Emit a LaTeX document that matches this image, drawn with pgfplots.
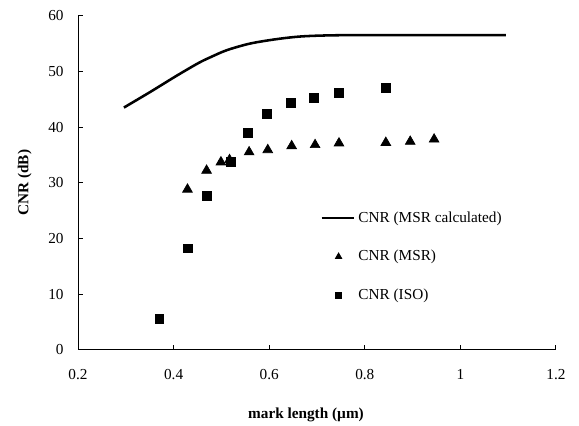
\documentclass[border=0pt]{standalone}
\usepackage{fontspec}
\setmainfont{Liberation Serif}
\usepackage{pgfplots}
\pgfplotsset{compat=1.18}
\begin{document}
\begin{tikzpicture}
\begin{axis}[
    scale only axis,
    width=9.906cm, height=6.922cm,
    xmin=0.2, xmax=1.2, ymin=0, ymax=60,
    xtick={0.2,0.4,0.6,0.8,1,1.2},
    ytick={0,10,20,30,40,50,60},
    axis x line=bottom, axis y line=left,
    axis line style={-, line width=0.6pt},
    tick align=inside, major tick length=3pt,
    tick style={black, line width=0.6pt},
    /pgf/number format/assume math mode=true,
    tick label style={font=\fontsize{9}{11}\selectfont},
    xticklabel style={yshift=-8pt},
    yticklabel style={xshift=-5pt},
    label style={font=\fontsize{9}{11}\selectfont\bfseries},
    xlabel={mark length (µm)},
    ylabel={CNR (dB)},
    xlabel style={at={(rel axis cs:0.477,0)}, yshift=-31pt},
    ylabel style={yshift=3pt},
    legend style={draw=none, fill=none, at={(axis cs:0.707,25.5)}, anchor=north west,
        font=\fontsize{9}{11}\selectfont, row sep=11pt,
        inner sep=0pt, cells={anchor=west}},
    legend cell align=left,
    clip=false,
]
% CNR (MSR calculated)
\addplot[black, line width=1.5pt, smooth, forget plot] coordinates {
    (0.296,43.5) (0.351,46.3) (0.406,49.2) (0.452,51.5) (0.476,52.5)
    (0.511,53.8) (0.560,55.0) (0.616,55.8) (0.671,56.3) (0.75,56.5)
    (0.9,56.5) (1.095,56.5)
};
% CNR (MSR)
\addplot[only marks, mark=triangle*, mark size=3.3pt, black, forget plot] coordinates {
    (0.429,28.8) (0.469,32.2) (0.499,33.7) (0.517,34.1) (0.558,35.5)
    (0.597,35.9) (0.647,36.6) (0.696,36.8) (0.746,37.1) (0.844,37.2)
    (0.895,37.4) (0.945,37.8)
};
% CNR (ISO)
\addplot[only marks, mark=square*, mark size=2.6pt, black, forget plot] coordinates {
    (0.370,5.5) (0.430,18.2) (0.469,27.7) (0.520,33.8) (0.556,38.9)
    (0.595,42.3) (0.646,44.4) (0.694,45.3) (0.745,46.1) (0.844,47.0)
};
\addlegendimage{legend image code/.code={\draw[black, line width=1.2pt] (-0.05cm,0cm) -- (0.62cm,0cm);}}
\addlegendentry{CNR (MSR calculated)}
\addlegendimage{only marks, mark=triangle*, mark size=2.2pt, black}
\addlegendentry{CNR (MSR)}
\addlegendimage{only marks, mark=square*, mark size=1.8pt, black}
\addlegendentry{CNR (ISO)}
\end{axis}
\pgfresetboundingbox
\path (-1.617cm,-1.561cm) rectangle (10.383cm,7.248cm);
\end{tikzpicture}
\end{document}
